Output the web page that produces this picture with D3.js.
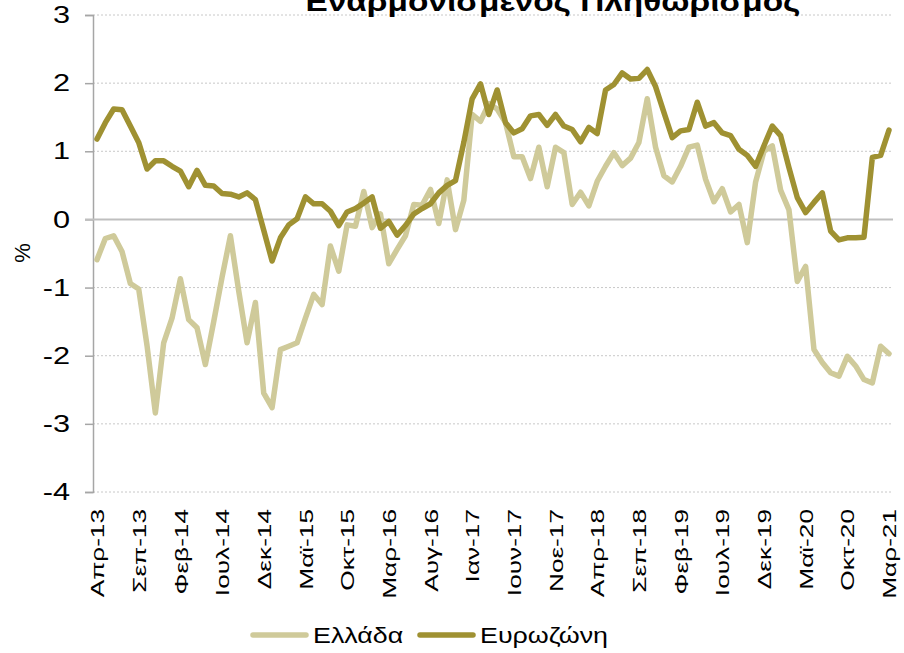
<!DOCTYPE html>
<html>
<head>
<meta charset="utf-8">
<script src="https://cdn.jsdelivr.net/npm/d3@7"></script>
<style>
  body { margin: 0; background: #fff; }
  text { font-family: "Liberation Sans", Arial, sans-serif; fill: #000; }
</style>
</head>
<body>
<svg id="chart" width="904" height="653"></svg>
<script>
/*global d3*/

// month names used for the category axis (data start on Apr-13)
var monthNames = ["Ιαν", "Φεβ", "Μαρ", "Απρ", "Μαϊ", "Ιουν", "Ιουλ", "Αυγ", "Σεπ", "Οκτ", "Νοε", "Δεκ"];
var startMonth = 3, startYear = 13, monthCount = 96;

var tickLabels = ["Απρ-13", "Σεπ-13", "Φεβ-14", "Ιουλ-14", "Δεκ-14", "Μαϊ-15", "Οκτ-15",
  "Μαρ-16", "Αυγ-16", "Ιαν-17", "Ιουν-17", "Νοε-17", "Απρ-18", "Σεπ-18", "Φεβ-19",
  "Ιουλ-19", "Δεκ-19", "Μαϊ-20", "Οκτ-20", "Μαρ-21"];

var yTicks = [3, 2, 1, 0, -1, -2, -3, -4];

var seriesNames = ["Ελλάδα", "Ευρωζώνη"];

// Ελλάδα, Apr-13 .. Mar-21
var greece = [
  -0.59, -0.28, -0.24, -0.47, -0.94, -1.02, -1.85, -2.84, -1.81,
  -1.45, -0.87, -1.47, -1.59, -2.13, -1.50, -0.85, -0.24, -1.05, -1.81, -1.22, -2.55,
  -2.76, -1.91, -1.86, -1.81, -1.45, -1.10, -1.25, -0.39, -0.76, -0.08, -0.10, 0.41,
  -0.12, 0.08, -0.65, -0.44, -0.24, 0.22, 0.21, 0.44, -0.06, 0.58, -0.15, 0.28,
  1.54, 1.44, 1.70, 1.62, 1.42, 0.92, 0.92, 0.60, 1.06, 0.48, 1.06, 0.98,
  0.22, 0.40, 0.20, 0.56, 0.78, 0.98, 0.79, 0.90, 1.13, 1.77, 1.06, 0.64,
  0.55, 0.78, 1.06, 1.09, 0.59, 0.26, 0.45, 0.11, 0.22, -0.34, 0.55, 1.00,
  1.08, 0.43, 0.14, -0.91, -0.69, -1.91, -2.10, -2.25, -2.30, -2.01, -2.15, -2.35,
  -2.40, -1.86, -1.97
];

// Ευρωζώνη, Apr-13 .. Mar-21
var euroArea = [
  1.18, 1.42, 1.62, 1.61, 1.37, 1.13, 0.74, 0.86, 0.86,
  0.78, 0.71, 0.48, 0.72, 0.50, 0.49, 0.38, 0.37, 0.33, 0.39, 0.29, -0.16,
  -0.61, -0.27, -0.08, 0.01, 0.33, 0.23, 0.23, 0.12, -0.09, 0.11, 0.16, 0.24,
  0.33, -0.13, -0.03, -0.23, -0.09, 0.08, 0.16, 0.23, 0.39, 0.50, 0.57, 1.13,
  1.77, 1.99, 1.54, 1.90, 1.42, 1.27, 1.33, 1.52, 1.54, 1.38, 1.54, 1.37,
  1.32, 1.14, 1.35, 1.26, 1.90, 1.98, 2.15, 2.06, 2.07, 2.20, 1.95, 1.57,
  1.20, 1.30, 1.32, 1.72, 1.37, 1.42, 1.27, 1.23, 1.03, 0.94, 0.78, 1.08,
  1.37, 1.23, 0.76, 0.32, 0.10, 0.25, 0.39, -0.17, -0.30, -0.27, -0.27, -0.26,
  0.91, 0.94, 1.31
];

var categories = [];
for (var i = 0; i < monthCount; i++) {
  var m = (startMonth + i) % 12;
  var yr = startYear + Math.floor((startMonth + i) / 12);
  categories.push(monthNames[m] + "-" + yr);
}

var colors = ["#cfca9a", "#9f9132"];
var series = [greece, euroArea];

var svg = d3.select("#chart");
// plot area edges (note: "top" is taken by window.top, so prefix them)
var plotLeft = 93, plotRight = 893, plotTop = 15, plotBottom = 492;

var x = d3.scalePoint().domain(categories).range([97, 889]);
var y = d3.scaleLinear().domain([-4, 3]).range([plotBottom, plotTop]);

// dotted gridlines
svg.append("g")
  .selectAll("line")
  .data(yTicks.filter(function(d) { return d !== 0; }))
  .enter().append("line")
  .attr("x1", plotLeft).attr("x2", plotRight)
  .attr("y1", function(d) { return y(d); })
  .attr("y2", function(d) { return y(d); })
  .attr("stroke", "#c8c8c8")
  .attr("stroke-width", 1)
  .attr("stroke-dasharray", "2,2");

// y axis, plain hyphen for negatives like the original
var yAxis = svg.append("g")
  .attr("transform", "translate(" + plotLeft + ",0)")
  .call(d3.axisLeft(y).tickValues(yTicks).tickSize(8)
    .tickFormat(function(d) { return String(d); }));
yAxis.select(".domain").attr("stroke", "#a6a6a6").attr("stroke-width", 1.5);
yAxis.selectAll(".tick line").attr("stroke", "#a6a6a6").attr("stroke-width", 1.5);
yAxis.selectAll(".tick text")
  .attr("x", 0)
  .attr("transform", "translate(-23,0) scale(1.28,1)")
  .style("font-size", "24px")
  .style("font-family", "'Liberation Sans', Arial, sans-serif")
  .attr("fill", "#000");

// zero line
svg.append("line")
  .attr("x1", plotLeft - 8).attr("x2", plotRight)
  .attr("y1", y(0)).attr("y2", y(0))
  .attr("stroke", "#bfbfbf")
  .attr("stroke-width", 2);

// x axis labels (bottom)
var xAxis = svg.append("g")
  .attr("transform", "translate(0," + plotBottom + ")")
  .call(d3.axisBottom(x).tickValues(tickLabels).tickSize(0));
xAxis.select(".domain").remove();
xAxis.selectAll(".tick text")
  .attr("x", 0).attr("y", 0)
  .attr("dy", "0.35em")
  .attr("transform", "translate(0,17) rotate(-90) scale(1.38,1)")
  .style("text-anchor", "end")
  .style("font-size", "19px")
  .style("font-family", "'Liberation Sans', Arial, sans-serif")
  .attr("fill", "#000");

// lines
var line = d3.line()
  .x(function(d, i) { return x(categories[i]); })
  .y(function(d) { return y(d); });

svg.append("g")
  .selectAll("path")
  .data(series)
  .enter().append("path")
  .attr("d", line)
  .attr("fill", "none")
  .attr("stroke", function(d, i) { return colors[i]; })
  .attr("stroke-width", 5.5)
  .attr("stroke-linejoin", "round")
  .attr("stroke-linecap", "round");

// axis title
svg.append("text")
  .attr("transform", "translate(30,253) rotate(-90)")
  .attr("text-anchor", "middle")
  .style("font-size", "22px")
  .text("%");

// chart title (cut off at the top in the original)
svg.append("text")
  .attr("x", 553).attr("y", 11)
  .attr("text-anchor", "middle")
  .attr("textLength", 495)
  .attr("lengthAdjust", "spacingAndGlyphs")
  .style("font-size", "28px")
  .style("font-weight", "bold")
  .text("Εναρμονισμένος Πληθωρισμός");

// legend
var legendX = [253, 420];
var legend = svg.append("g")
  .selectAll("g")
  .data(seriesNames)
  .enter().append("g")
  .attr("transform", function(d, i) { return "translate(" + legendX[i] + ",635)"; });
legend.append("line")
  .attr("x1", 0).attr("x2", 53)
  .attr("stroke", function(d, i) { return colors[i]; })
  .attr("stroke-width", 5.5)
  .attr("stroke-linecap", "round");
legend.append("text")
  .attr("transform", "translate(60,8) scale(1.22,1)")
  .style("font-size", "22px")
  .text(function(d) { return d; });
</script>
</body>
</html>
